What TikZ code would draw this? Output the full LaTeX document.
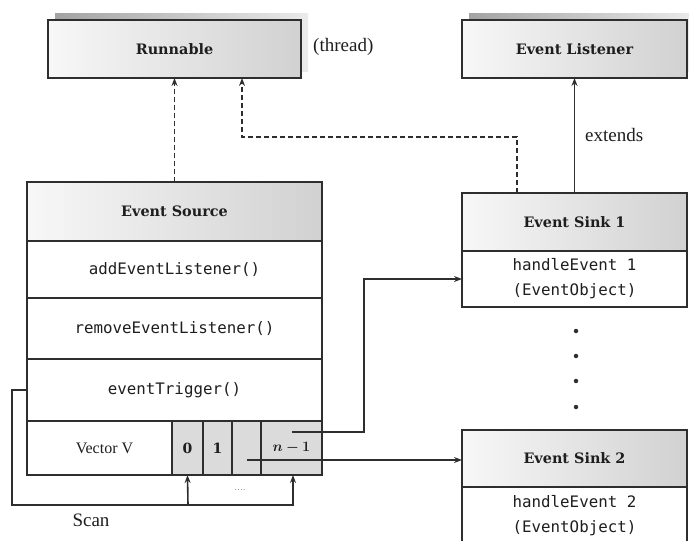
\documentclass[tikz,border=0pt]{standalone}
\usepackage{fontspec}
\usepackage{bm}
\newfontfamily\monof{DejaVu Sans Mono}
\newfontfamily\labf{Liberation Serif}
\newfontfamily\headf{DejaVu Serif}
\usetikzlibrary{arrows.meta,backgrounds}
\definecolor{linec}{HTML}{2E2E2E}
\definecolor{txtc}{HTML}{1E1E1E}
\begin{document}
\begin{tikzpicture}[x=1pt,y=-1pt,
  box/.style={draw=linec, line width=1.6pt, inner sep=0pt, outer sep=0pt, text=txtc},
  header/.style={box, left color=gray!6, right color=gray!36, font=\headf\bfseries\fontsize{14.4}{17}\selectfont},
  row/.style={box, fill=white, font=\monof\fontsize{15.8}{25}\selectfont, align=center},
  cell/.style={box, fill=gray!28, minimum height=54pt, font=\headf\bfseries\fontsize{14}{17}\selectfont},
  lbl/.style={text=txtc, font=\labf\fontsize{19}{22}\selectfont, inner sep=0pt},
  conn/.style={draw=linec, line width=1.6pt},
  arr/.style={conn, -{Stealth[length=8pt,width=6pt]}},
  dsh/.style={arr, dash pattern=on 5pt off 3pt},
  shadowfill/.style={left color=gray!72, right color=gray!16},
  dotn/.style={circle, fill=linec, inner sep=0pt, minimum size=4.5pt}
]
\useasboundingbox (0,0) rectangle (689,541);
\path[clip] (0,0) rectangle (689,541);

% top boxes
\node[header, minimum width=253pt, minimum height=58pt] (runnable) at (174.5,49) {Runnable};
\node[header, minimum width=225pt, minimum height=58pt] (listener) at (574.5,49) {Event Listener};
\begin{scope}[on background layer]
  \fill[shadowfill] ([xshift=7pt,yshift=7pt]runnable.south west) rectangle ([xshift=7pt,yshift=7pt]runnable.north east);
  \fill[shadowfill] ([xshift=7pt,yshift=7pt]listener.south west) rectangle ([xshift=7pt,yshift=7pt]listener.north east);
\end{scope}
\node[lbl, anchor=west] (thread) at (313,47) {(thread)};

% event source
\node[header, minimum width=295pt, minimum height=59pt] (es) at (174.5,211.5) {Event Source};
\node[row, minimum width=295pt, minimum height=57pt] (add) at (174.5,269.5) {addEventListener()};
\node[row, minimum width=295pt, minimum height=61pt] (rem) at (174.5,328.5) {removeEventListener()};
\node[row, minimum width=295pt, minimum height=62pt] (trig) at (174.5,390) {eventTrigger()};
\node[box, fill=white, minimum width=145pt, minimum height=54pt, font=\labf\fontsize{16}{18}\selectfont] (vec) at (99.5,448) {\hspace*{10pt}Vector V};
\node[cell, minimum width=31pt] (c0) at (187.5,448) {0};
\node[cell, minimum width=29pt] (c1) at (217.5,448) {1};
\node[cell, minimum width=29pt] (c2) at (246.5,448) {};
\node[cell, minimum width=61pt] (c3) at (291.5,448) {$\bm{n-1}$};

% sinks
\node[header, minimum width=225pt, minimum height=58pt] (s1h) at (574.5,222) {Event Sink 1};
\node[row, minimum width=225pt, minimum height=56pt] (s1b) at (574.5,279) {handleEvent 1\\(EventObject)};
\node[header, minimum width=225pt, minimum height=57pt] (s2h) at (574.5,458.5) {Event Sink 2};
\node[row, minimum width=225pt, minimum height=70pt] (s2b) at (574.5,522) {};
\node[font=\monof\fontsize{15.8}{25}\selectfont, text=txtc, align=center, inner sep=0pt] (s2t) at (574.5,516) {handleEvent 2\\(EventObject)};

% dots
\node[dotn] (d1) at (576,331) {};
\node[dotn] (d2) at (576,356) {};
\node[dotn] (d3) at (576,381) {};
\node[dotn] (d4) at (576,407) {};

% dashed connectors
\draw[dsh] (es.north) -- (runnable.south);
\draw[dsh] ([xshift=55pt]s1h.north west) -- ++(0,-56) -| ([xshift=194pt]runnable.south west);

% extends
\draw[arr] (s1h.north) -- (listener.south);
\node[lbl, anchor=west] (ext) at (585,135) {extends};

% vector to sinks
\coordinate (p1) at (292,432);
\coordinate (b1) at (364,432);
\draw[arr] (p1) -- (b1) |- (s1b.west);
\coordinate (p2) at (247,460);
\draw[arr] (p2) -- (s2h.west |- p2);

% scan loop
\coordinate (scanL) at (12,390);
\coordinate (scanR) at (293,505);
\coordinate (scanM) at (188,505);
\draw[arr] (trig.west) -- (scanL) |- (scanR) -- (scanR |- c3.south);
\draw[arr] (scanM) -- (c0.south);
\node[text=gray, font=\fontsize{10}{12}\selectfont, inner sep=0pt] (dots) at (240,490) {....};
\node[lbl] (scan) at (91,520) {Scan};
\end{tikzpicture}
\end{document}
